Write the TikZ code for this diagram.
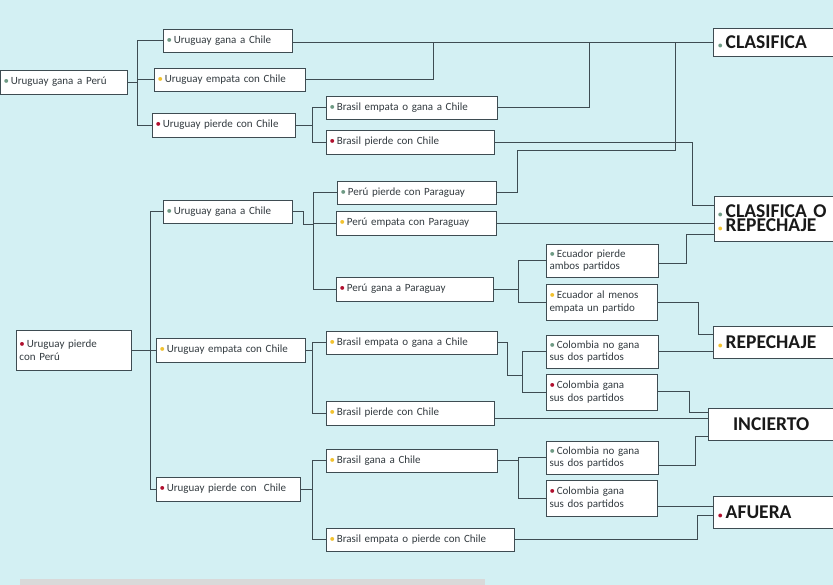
\documentclass[tikz,border=0pt]{standalone}
\usepackage{fontspec}
\setmainfont{Carlito}
\definecolor{bg}{HTML}{D3F0F3}
\definecolor{ln}{HTML}{3E4C52}
\definecolor{gd}{HTML}{6E9A84}
\definecolor{yd}{HTML}{F2C230}
\definecolor{rd}{HTML}{B0102E}
\definecolor{tx}{HTML}{333B40}
\newcommand{\gb}{\textcolor{gd}{\textbullet}\,}
\newcommand{\yb}{\textcolor{yd}{\textbullet}\,}
\newcommand{\rb}{\textcolor{rd}{\textbullet}\,}
\newcommand{\bgb}{\textcolor{gd}{\fontsize{9}{9}\selectfont\textbullet}\,}
\newcommand{\byb}{\textcolor{yd}{\fontsize{9}{9}\selectfont\textbullet}\,}
\newcommand{\brb}{\textcolor{rd}{\fontsize{9}{9}\selectfont\textbullet}\,}
\begin{document}
\begin{tikzpicture}[x=1pt,y=-1pt,
  box/.style={draw=ln,fill=white,line width=0.9pt,inner sep=0pt,font=\fontsize{11}{12.5}\selectfont,text=tx,align=left,anchor=center},
  res/.style={draw=ln,fill=white,line width=0.9pt,inner sep=0pt,font=\fontsize{19.5}{14}\selectfont\bfseries,text=black!90,align=left},
  con/.style={draw=ln,line width=0.9pt}]
\useasboundingbox (0,0) rectangle (833,585);
\fill[bg] (0,0) rectangle (833,585);
\fill[black!15] (20,579) rectangle (485,585);
\clip (0,0) rectangle (833,585);
\newcommand{\bx}[6]{\node[box,minimum width=#4,minimum height=#5,text width=#4-7] (#1) at (#2,#3) {#6};}
% upper
\bx{A}{63.5}{82}{127}{24}{\gb Uruguay gana a Perú}
\bx{B1}{227.5}{40.5}{129}{23}{\gb Uruguay gana a Chile}
\bx{B2}{229.5}{79.5}{151}{23}{\yb Uruguay empata con Chile}
\bx{B3}{223.5}{125}{143}{24}{\rb Uruguay pierde con Chile}
\bx{C1}{411.5}{107.5}{171}{23}{\gb Brasil empata o gana a Chile}
\bx{C2}{410}{142}{168}{24}{\rb Brasil pierde con Chile}
% lower
\bx{D}{73.5}{350}{115}{40}{\rb Uruguay pierde\\con Perú}
\bx{E1}{227.5}{211.5}{129}{23}{\gb Uruguay gana a Chile}
\bx{E2}{230.5}{350}{149}{24}{\yb Uruguay empata con Chile}
\bx{E3}{228}{489}{144}{24}{\rb Uruguay pierde con\ \ Chile}
\bx{F1}{416.5}{192.5}{159}{23}{\gb Perú pierde con Paraguay}
\bx{F2}{416}{223}{160}{24}{\yb Perú empata con Paraguay}
\bx{F3}{414.5}{289}{157}{24}{\rb Perú gana a Paraguay}
\bx{G1}{602}{260.5}{112}{33}{\gb Ecuador pierde\\ambos partidos}
\bx{G2}{601.5}{302}{111}{36}{\yb Ecuador al menos\\empata un partido}
\bx{H1}{411.5}{342.5}{171}{23}{\yb Brasil empata o gana a Chile}
\bx{H2}{410}{413}{168}{24}{\yb Brasil pierde con Chile}
\bx{I1}{602}{351.5}{112}{33}{\gb Colombia no gana\\sus dos partidos}
\bx{I2}{601.5}{392}{111}{36}{\rb Colombia gana\\sus dos partidos}
\bx{J1}{411.5}{460.5}{171}{23}{\yb Brasil gana a Chile}
\bx{J2}{420}{539.5}{188}{23}{\yb Brasil empata o pierde con Chile}
\bx{K1}{602}{457.5}{112}{33}{\gb Colombia no gana\\sus dos partidos}
\bx{K2}{601.5}{498}{111}{36}{\rb Colombia gana\\sus dos partidos}
% results
\node[res,minimum width=127,minimum height=28,text width=117] (R1) at (776.5,42) {\bgb CLASIFICA};
\node[res,minimum width=127,minimum height=45,text width=119] (R2) at (777.5,218.5) {\bgb CLASIFICA O\\\byb REPECHAJE};
\node[res,minimum width=127,minimum height=32,text width=117] (R3) at (776.5,342) {\byb REPECHAJE};
\node[res,minimum width=132,minimum height=32,text width=122] (R4) at (774,424) {\hspace{20pt}INCIERTO};
\node[res,minimum width=127,minimum height=32,text width=117] (R5) at (776.5,512) {\brb AFUERA};
% connectors upper
\draw[con] (A.east) -- (137,82);
\draw[con] (B1.west) -- (137,40.5) -- (137,125) -- (B3.west);
\draw[con] (137,79.5) -- (B2.west);
\draw[con] (B1.east |- 0,42) -- (R1.west);
\draw[con] (B2.east) -| (433,42);
\draw[con] (B3.east) -- (312,125);
\draw[con] (C1.west) -| (312,142) -- (C2.west);
\draw[con] (C1.east) -| (589,42);
\draw[con] (C2.east) -| (692,205) -- (R2.west |- 0,205);
\draw[con] (F1.east) -| (517,150) -| (675,42);
\draw[con] (F2.east) -- (R2.west |- 0,223);
% lower
\draw[con] (D.east) -- (150,350);
\draw[con] (E1.west) -| (150,489) -- (E3.west);
\draw[con] (150,350) -- (E2.west);
\draw[con] (E1.east) -| (303,224) -- (313,224);
\draw[con] (F1.west) -| (313,289) -- (F3.west);
\draw[con] (313,223) -- (F2.west);
\draw[con] (F3.east) -- (518,289);
\draw[con] (G1.west) -| (518,302) -- (G2.west);
\draw[con] (G1.east |- 0,263) -| (686,234) -- (R2.west |- 0,234);
\draw[con] (G2.east) -| (698,334) -- (R3.west |- 0,334);
\draw[con] (E2.east) -- (312,350);
\draw[con] (H1.west) -| (312,413) -- (H2.west);
\draw[con] (H1.east) -| (507,375) -- (522,375);
\draw[con] (I1.west) -| (522,392) -- (I2.west);
\draw[con] (I1.east) -- (R3.west |- 0,351.5);
\draw[con] (I2.east |- 0,391) -| (689,412) -- (R4.west |- 0,412);
\draw[con] (H2.east |- 0,418) -- (R4.west |- 0,418);
\draw[con] (E3.east) -- (312,489);
\draw[con] (J1.west) -| (312,539.5) -- (J2.west);
\draw[con] (J1.east) -- (518,460.5);
\draw[con] (K1.west) -| (518,498) -- (K2.west);
\draw[con] (K1.east |- 0,465) -| (695,436) -- (R4.west |- 0,436);
\draw[con] (K2.east |- 0,506) -- (R5.west |- 0,506);
\draw[con] (J2.east) -| (697,515) -- (R5.west |- 0,515);
\end{tikzpicture}
\end{document}
